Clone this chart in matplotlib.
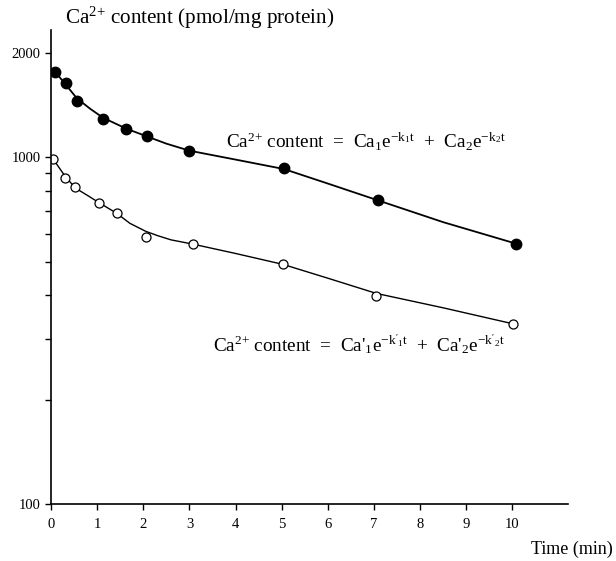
import matplotlib
matplotlib.use("Agg")
import matplotlib.pyplot as plt
from matplotlib.ticker import FixedLocator, NullFormatter

# total Ca2+ (filled circles)
t_filled = [0.09, 0.32, 0.56, 1.13, 1.63, 2.07, 2.99, 5.05, 7.09, 10.07]
ca_filled = [1764, 1633, 1454, 1294, 1207, 1153, 1045, 934, 751, 564]

# open circles
t_open = [0.05, 0.31, 0.53, 1.04, 1.42, 2.05, 3.07, 5.03, 7.05, 10.01]
ca_open = [987, 873, 819, 740, 690, 591, 562, 491, 399, 331]

# fitted curves
t_fit_filled = [0.09, 0.32, 0.56, 0.85, 1.13, 1.63, 2.07, 2.5, 3.0, 4.0, 5.05, 6.0, 7.09, 8.5, 10.07]
ca_fit_filled = [1764, 1620, 1480, 1380, 1300, 1210, 1150, 1095, 1045, 985, 925, 840, 751, 650, 564]
t_fit_open = [0.05, 0.31, 0.53, 0.8, 1.04, 1.42, 1.71, 2.05, 2.3, 2.6, 3.07, 4.0, 5.03, 6.0, 7.05, 8.5, 10.01]
ca_fit_open = [987, 880, 815, 775, 740, 690, 645, 612, 595, 578, 562, 528, 491, 448, 405, 368, 331]

x_ticks = list(range(0, 11))
y_major = [100, 1000, 2000]
y_minor = [200, 300, 400, 500, 600, 700, 800, 900]

plt.rcParams["font.family"] = ["Liberation Serif", "DejaVu Serif"]
plt.rcParams["mathtext.fontset"] = "custom"
plt.rcParams["mathtext.rm"] = "Liberation Serif"
plt.rcParams["mathtext.it"] = "Liberation Serif"


def main():
    fig = plt.figure(figsize=(6.16, 5.61), dpi=100)
    ax = fig.add_axes([0.0828, 0.1016, 0.839, 0.845])

    ax.plot(t_fit_filled, ca_fit_filled, "-", color="black", lw=1.3)
    ax.plot(t_filled, ca_filled, "o", color="black", ms=7.5)
    ax.plot(t_fit_open, ca_fit_open, "-", color="black", lw=1.0)
    ax.plot(t_open, ca_open, "o", mfc="white", mec="black", mew=0.9, ms=6.5)

    ax.set_yscale("log")
    ax.set_xlim(0, 11.2)
    ax.set_ylim(100, 2330)

    ax.spines["top"].set_visible(False)
    ax.spines["right"].set_visible(False)
    for s in ("left", "bottom"):
        ax.spines[s].set_linewidth(1.2)

    ax.set_xticks(x_ticks)
    ax.set_xticklabels([str(v) for v in x_ticks])
    ax.yaxis.set_major_locator(FixedLocator(y_major))
    ax.set_yticklabels([str(v) for v in y_major])
    ax.yaxis.set_minor_locator(FixedLocator(y_minor))
    ax.yaxis.set_minor_formatter(NullFormatter())
    ax.tick_params(axis="both", which="major", labelsize=10.5, length=4, direction="out", width=1)
    ax.tick_params(axis="y", which="minor", length=4, width=1)
    ax.tick_params(axis="x", pad=6)

    fig.text(65 / 616, 1 - 18 / 561, r"Ca$^{2{+}}$ content (pmol/mg protein)",
             fontsize=15.2, va="center", ha="left")
    fig.text(226 / 616, 1 - 142 / 561,
             r"Ca$^{2{+}}$ content  =  Ca$_1$e$^{-\mathrm{k}_1\mathrm{t}}$  +  Ca$_2$e$^{-\mathrm{k}_2\mathrm{t}}$",
             fontsize=13.8, va="center", ha="left")
    fig.text(213 / 616, 1 - 344 / 561,
             r"Ca$^{2{+}}$ content  =  Ca'$_1$e$^{-\mathrm{k'}_1\mathrm{t}}$  +  Ca'$_2$e$^{-\mathrm{k'}_2\mathrm{t}}$",
             fontsize=13.8, va="center", ha="left")
    fig.text(613 / 616, 1 - 549 / 561, "Time (min)", fontsize=13,
             va="center", ha="right")

    fig.savefig("out.png", dpi=100)


if __name__ == "__main__":
    main()
